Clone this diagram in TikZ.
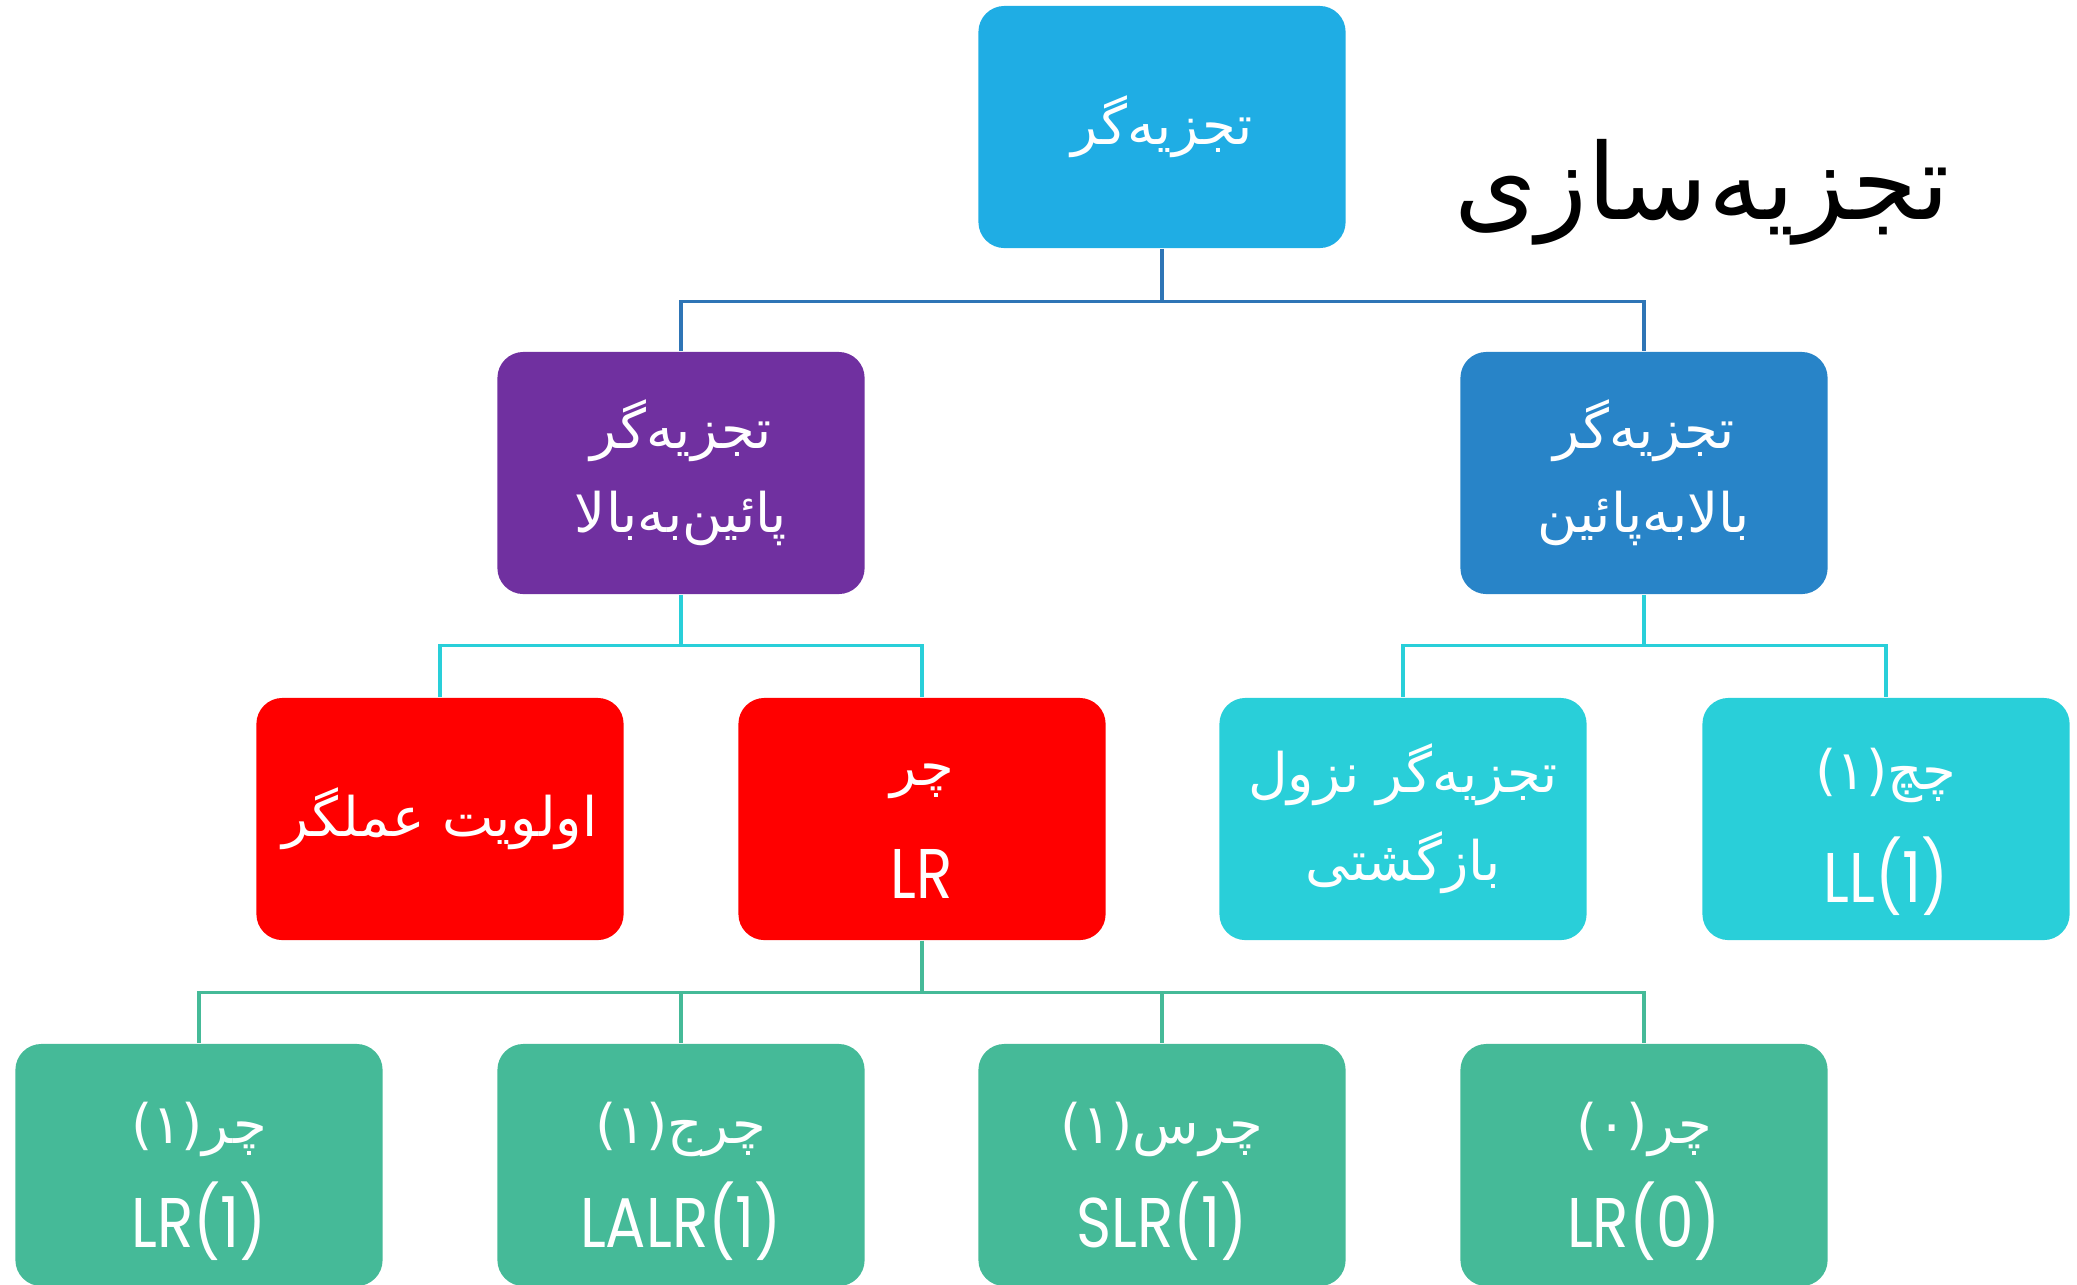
\documentclass[tikz,border=0pt]{standalone}
\usepackage{fontspec}
\setmainfont{DejaVu Sans}
\newfontfamily\arabicfont[Script=Arabic]{DejaVu Sans}
\newfontfamily\latinfont[FakeStretch=0.85]{Poppins}
\TeXXeTstate=1
\usepackage{tikz}
\definecolor{rootblue}{HTML}{1FADE4}
\definecolor{bupurple}{HTML}{7030A0}
\definecolor{tdblue}{HTML}{2884C8}
\definecolor{lrred}{HTML}{FF0000}
\definecolor{llcyan}{HTML}{29CFD9}
\definecolor{leafgreen}{HTML}{45BA98}
\definecolor{linkblue}{HTML}{2E75B6}
\newcommand{\lat}[1]{{\latinfont\fontsize{20}{24}\selectfont #1}}

\begin{document}
\begin{tikzpicture}[x=0.01cm,y=-0.01cm,
  box/.style={rounded corners=0.26cm,minimum width=3.67cm,minimum height=2.42cm,
    inner sep=0pt,text=white,align=center,font=\arabicfont\fontsize{15.5}{24}\selectfont},
  link/.style={line width=0.9pt}]
  \useasboundingbox (0,0) rectangle (2077,1284);
  \clip (0,0) rectangle (2077,1284);
  \node[box,fill=rootblue] (root) at (1162,127) {\beginR تجزیه^^^^200cگر\endR};
  \node[font=\arabicfont\fontsize{30}{34}\selectfont] (title) at (1702,192) {\beginR تجزیه^^^^200cسازی\endR};
  \node[box,fill=bupurple] (bu) at (681,473) {\beginR تجزیه^^^^200cگر\endR\\ \beginR پائین^^^^200cبه^^^^200cبالا\endR};
  \node[box,fill=tdblue] (td) at (1644,473) {\beginR تجزیه^^^^200cگر\endR\\ \beginR بالا^^^^200cبه^^^^200cپائین\endR};
  \node[box,fill=lrred] (op) at (440,819) {\beginR اولویت عملگر\endR};
  \node[box,fill=lrred] (lr) at (922,819) {\rule{0pt}{13pt}\beginR چر\endR\\[8pt] \lat{LR}};
  \node[box,fill=llcyan] (rd) at (1403,819) {\beginR تجزیه^^^^200cگر نزول\endR\\[1pt] \beginR بازگشتی\endR};
  \node[box,fill=llcyan] (ll) at (1886,819) {\rule{0pt}{19pt}\beginR چچ(۱)\endR\\[8pt] \lat{LL(1)}};
  \node[box,fill=leafgreen] (lr1) at (199,1165) {\rule{0pt}{21pt}\beginR چر(۱)\endR\\[5.5pt] \lat{LR(1)}};
  \node[box,fill=leafgreen] (lalr) at (681,1165) {\rule{0pt}{21pt}\beginR چرج(۱)\endR\\[5.5pt] \lat{LALR(1)}};
  \node[box,fill=leafgreen] (slr) at (1162,1165) {\rule{0pt}{21pt}\beginR چرس(۱)\endR\\[5.5pt] \lat{SLR(1)}};
  \node[box,fill=leafgreen] (lr0) at (1644,1165) {\rule{0pt}{21pt}\beginR چر(۰)\endR\\[5.5pt] \lat{LR(0)}};
  \draw[link,linkblue] (root.south) -- ++(0,53) -| (bu.north);
  \draw[link,linkblue] (root.south) -- ++(0,53) -| (td.north);
  \draw[link,llcyan] (bu.south) -- ++(0,51) -| (op.north);
  \draw[link,llcyan] (bu.south) -- ++(0,51) -| (lr.north);
  \draw[link,llcyan] (td.south) -- ++(0,51) -| (rd.north);
  \draw[link,llcyan] (td.south) -- ++(0,51) -| (ll.north);
  \foreach \leaf in {lr1,lalr,slr,lr0}
    \draw[link,leafgreen] (lr.south) -- ++(0,52) -| (\leaf.north);
\end{tikzpicture}
\end{document}
